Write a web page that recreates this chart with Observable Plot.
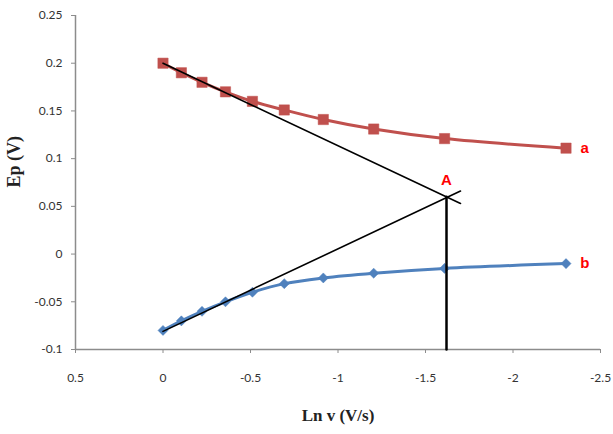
<!DOCTYPE html>
<html>
<head>
<meta charset="utf-8">
<script src="https://cdn.jsdelivr.net/npm/d3@7"></script>
<script src="https://cdn.jsdelivr.net/npm/@observablehq/plot@0.6"></script>
<style>
  body { margin: 0; background: #fff; }
  #chart svg { display: block; }
</style>
</head>
<body>
<div id="chart"></div>
<script>
// Data
const lnV = [0, -0.105, -0.223, -0.357, -0.511, -0.693, -0.916, -1.204, -1.609, -2.303];
const epA = [0.200, 0.190, 0.180, 0.170, 0.160, 0.151, 0.141, 0.131, 0.121, 0.111];
const epB = [-0.080, -0.070, -0.060, -0.050, -0.040, -0.031, -0.025, -0.020, -0.015, -0.010];

const tangentA = [{x: 0, y: 0.200}, {x: -1.70, y: 0.053}];
const tangentB = [{x: 0, y: -0.081}, {x: -1.70, y: 0.066}];
const pointA = {x: -1.62, y: 0.060};
const verticalLine = [{x: pointA.x, y: pointA.y}, {x: pointA.x, y: -0.1}];

const xTicks = [0.5, 0, -0.5, -1, -1.5, -2, -2.5];
const yTicks = [-0.1, -0.05, 0, 0.05, 0.1, 0.15, 0.2, 0.25];

const seriesLabels = [
  {x: -2.41, y: 0.111, text: "a"},
  {x: -2.41, y: -0.010, text: "b"},
  {x: pointA.x, y: 0.077, text: "A"}
];

const dataA = lnV.map((x, i) => ({x, y: epA[i]}));
const dataB = lnV.map((x, i) => ({x, y: epB[i]}));

const diamond = {
  draw(context, size) {
    const h = Math.sqrt(size / 2);
    context.moveTo(0, -h);
    context.lineTo(h, 0);
    context.lineTo(0, h);
    context.lineTo(-h, 0);
    context.closePath();
  }
};

const red = "#C0504D";
const blue = "#4F81BD";
const axisGray = "#8c8c8c";
const tickFont = "Lato, 'Open Sans', sans-serif";
const serif = "'Liberation Serif', 'Times New Roman', serif";

const chart = Plot.plot({
  width: 613,
  height: 434,
  marginLeft: 75,
  marginRight: 13,
  marginTop: 15,
  marginBottom: 85,
  style: {fontFamily: tickFont, fontSize: "12px", color: "#333", background: "#fff"},
  x: {domain: [0.5, -2.5]},
  y: {domain: [-0.1, 0.25]},
  marks: [
    Plot.axisY({ticks: yTicks, tickFormat: d => String(d), tickSize: 4, tickPadding: 9, label: null, stroke: axisGray, fill: "#333", fontSize: 12}),
    Plot.axisX({ticks: xTicks, tickFormat: d => String(d), tickSize: 4, tickPadding: 20, label: null, stroke: axisGray, fill: "#333", fontSize: 12}),
    Plot.ruleX([0.5], {stroke: axisGray, strokeWidth: 1.5}),
    Plot.ruleY([-0.1], {stroke: axisGray, strokeWidth: 1.5}),
    Plot.line(dataA, {x: "x", y: "y", stroke: red, strokeWidth: 3, curve: "catmull-rom"}),
    Plot.line(dataB, {x: "x", y: "y", stroke: blue, strokeWidth: 3, curve: "catmull-rom"}),
    Plot.dot(dataA, {x: "x", y: "y", symbol: "square", r: 5.8, fill: red, stroke: red, strokeWidth: 0.5}),
    Plot.dot(dataB, {x: "x", y: "y", symbol: diamond, r: 4, fill: blue, stroke: blue, strokeWidth: 0.5}),
    Plot.line(tangentA, {x: "x", y: "y", stroke: "#000", strokeWidth: 1.6}),
    Plot.line(tangentB, {x: "x", y: "y", stroke: "#000", strokeWidth: 1.6}),
    Plot.line(verticalLine, {x: "x", y: "y", stroke: "#000", strokeWidth: 2.5}),
    Plot.text(seriesLabels, {x: "x", y: "y", text: "text", fill: "#FF0000", fontWeight: "bold", fontSize: 15, fontFamily: "'Liberation Sans', Arial, sans-serif"}),
    Plot.text(["Ep (V)"], {frameAnchor: "left", rotate: -90, dx: -61, dy: 5, fontFamily: serif, fontWeight: "bold", fontSize: 18, fill: "#222"}),
    Plot.text(["Ln v (V/s)"], {frameAnchor: "bottom", dy: 71, fontFamily: serif, fontWeight: "bold", fontSize: 17, fill: "#222"})
  ]
});

document.getElementById("chart").appendChild(chart);
</script>
</body>
</html>
